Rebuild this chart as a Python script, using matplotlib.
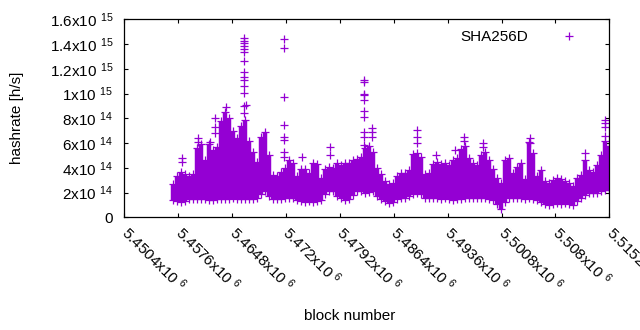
import numpy as np
import matplotlib
matplotlib.use('Agg')
import matplotlib.pyplot as plt
from matplotlib.transforms import ScaledTranslation

plt.rcParams['font.family'] = ['Liberation Sans', 'DejaVu Sans']
plt.rcParams['mathtext.fontset'] = 'custom'
plt.rcParams['mathtext.rm'] = 'Liberation Sans'
plt.rcParams['mathtext.it'] = 'Liberation Sans'

# per-bin hashrate envelope (units of 1e14 h/s), bins every 534 blocks
bin_start = 5456900
bin_step = 534
hashrate_lo = [1.4, 1.3, 1.25, 1.35, 1.5, 1.45, 1.5, 1.5, 1.45, 1.4,
               1.4, 1.45, 1.5, 1.45, 1.5, 1.55, 1.5, 1.45, 1.5, 1.5,
               1.45, 1.6, 1.9, 2.1, 1.7, 1.5, 1.45, 1.5, 1.55, 1.6,
               1.55, 1.4, 1.3, 1.25, 1.35, 1.25, 1.3, 1.4, 1.9, 2.1,
               2.1, 1.7, 1.55, 1.4, 1.45, 1.8, 2.1, 2.1, 2.0, 2.05,
               2.1, 1.7, 1.5, 1.3, 1.15, 1.2, 1.45, 1.55, 1.6, 1.7,
               1.9, 2.0, 1.9, 1.6, 1.55, 1.6, 1.55, 1.5, 1.55, 1.5,
               1.4, 1.45, 1.5, 1.6, 1.55, 1.6, 1.6, 1.6, 1.55, 1.5,
               1.4, 1.1, 0.7, 1.2, 1.55, 1.6, 1.55, 1.6, 1.5, 1.55,
               1.5, 1.4, 1.2, 1.1, 1.0, 1.05, 1.15, 1.1, 1.15, 1.05,
               1.0, 1.3, 1.6, 1.8, 1.95, 2.0, 2.0, 2.1, 2.2, 2.2]
hashrate_hi = [2.7, 3.3, 3.7, 3.5, 3.3, 3.5, 5.6, 5.9, 4.6, 5.9,
               5.4, 5.7, 7.8, 8.5, 8.0, 7.0, 6.4, 7.4, 7.9, 6.2,
               5.3, 4.5, 6.5, 6.9, 5.0, 3.4, 3.3, 3.7, 4.0, 4.6,
               4.4, 3.3, 3.9, 3.9, 3.6, 4.4, 4.3, 3.2, 3.9, 4.1,
               4.0, 4.4, 4.2, 4.4, 4.4, 4.6, 4.7, 4.9, 5.6, 5.8,
               5.3, 4.0, 3.5, 2.9, 2.7, 2.8, 3.3, 3.6, 3.6, 3.8,
               5.1, 5.2, 4.9, 3.5, 3.6, 4.3, 4.5, 4.3, 4.4, 4.2,
               4.6, 4.8, 5.5, 5.8, 4.8, 4.4, 4.2, 5.0, 5.3, 4.6,
               3.9, 3.2, 2.8, 4.6, 4.8, 3.6, 4.1, 4.4, 3.1, 6.1,
               5.2, 3.3, 3.8, 2.9, 2.8, 3.0, 3.2, 3.1, 2.9, 2.8,
               2.5, 3.2, 3.4, 4.6, 3.8, 3.7, 4.2, 5.0, 6.2, 5.8]

# isolated high readings (block number, hashrate in 1e14 h/s)
spike_blocks = [5458108, 5458108, 5460245, 5460245, 5461848,
                5462516, 5462516, 5462516, 5463985,
                5466430, 5466430, 5466430, 5466430, 5466430, 5466430, 5466430,
                5466430, 5466430, 5466430, 5466430, 5466430, 5466430, 5466430,
                5466657,
                5471773, 5471773, 5471773, 5471773, 5471773, 5471773, 5471773, 5471773,
                5474137, 5477877, 5477877,
                5482459, 5482459, 5482459, 5482459, 5482459, 5482459, 5482459,
                5482459, 5482459, 5482459,
                5483488, 5483488, 5483488,
                5489499, 5489499, 5489499, 5492037, 5494575, 5495777, 5495777,
                5498315, 5498315, 5504593, 5504593, 5511940,
                5514612, 5514612, 5514612, 5514612]
spike_values = [4.8, 4.5, 6.4, 6.1, 6.1,
                8.0, 7.3, 6.8, 8.9,
                14.46, 14.27, 14.11, 13.87, 13.57, 13.33, 12.63,
                11.71, 11.31, 11.09, 10.61, 10.02, 9.0, 8.4,
                9.1,
                14.4, 13.7, 9.75, 7.45, 6.5, 6.25, 5.3, 4.9,
                4.9, 5.7, 5.0,
                11.1, 10.9, 10.0, 9.9, 9.5, 8.6, 8.1,
                6.9, 6.5, 5.85,
                7.2, 6.9, 6.5,
                7.05, 6.5, 6.0, 5.0, 5.4, 6.5, 6.2,
                6.0, 5.7, 6.4, 6.0, 5.2,
                7.9, 7.6, 7.3, 6.6]

xticks = [5450400, 5457600, 5464800, 5472000, 5479200,
          5486400, 5493600, 5500800, 5508000, 5515200]
xtick_labels = ['5.4504', '5.4576', '5.4648', '5.472', '5.4792',
                '5.4864', '5.4936', '5.5008', '5.508', '5.5152']
yticks = [0, 2e14, 4e14, 6e14, 8e14, 1e15, 1.2e15, 1.4e15, 1.6e15]
ytick_labels = ['0', '2x10 $^{14}$', '4x10 $^{14}$', '6x10 $^{14}$', '8x10 $^{14}$',
                '1x10 $^{15}$', '1.2x10 $^{15}$', '1.4x10 $^{15}$', '1.6x10 $^{15}$']

color = '#9400d3'
fs = 11

blocks = bin_start + bin_step * np.arange(len(hashrate_lo))
lo = np.array(hashrate_lo) * 1e14
hi = np.array(hashrate_hi) * 1e14

fig = plt.figure(figsize=(6.4, 3.3), dpi=100)
ax = fig.add_axes([124.3 / 640, 1 - 217.3 / 330, 485 / 640, 198 / 330])

ax.vlines(blocks, lo, hi, colors=color, linewidth=3.2)
mk = dict(marker='+', linestyle='none', color=color, markersize=5.5, markeredgewidth=0.9)
ax.plot(blocks, lo, **mk)
ax.plot(blocks, hi, **mk)
ax.plot(spike_blocks, np.array(spike_values) * 1e14, label='SHA256D', **mk)

ax.set_xlim(5450400, 5515200)
ax.set_ylim(0, 1.6e15)

ax.set_yticks(yticks)
ax.set_yticklabels(ytick_labels, fontsize=fs)
ax.set_xticks(xticks)
ax.set_xticklabels([s + 'x10 $^{6}$' for s in xtick_labels], fontsize=fs,
                   rotation=-45, ha='left', va='center', rotation_mode='anchor')
shift = ScaledTranslation(5 / 100, 0, fig.dpi_scale_trans)
for lab in ax.get_xticklabels():
    lab.set_transform(lab.get_transform() + shift)
ax.tick_params(direction='in', length=3, width=0.8, top=True, right=True)
ax.tick_params(axis='y', pad=8)
ax.tick_params(axis='x', pad=9)
for sp in ax.spines.values():
    sp.set_linewidth(0.9)

ax.set_ylabel('hashrate [h/s]', fontsize=fs)
ax.yaxis.set_label_coords(-0.207, 0.5)
fig.text(350 / 640, 1 - 316 / 330, 'block number', fontsize=fs,
         ha='center', va='center')

ax.legend(loc='upper right', frameon=False, markerfirst=False, fontsize=fs,
          handlelength=1.0, handletextpad=2.2, borderaxespad=0.3,
          bbox_to_anchor=(1 - 22 / 485, 1.0))

fig.savefig('out.png', dpi=100)
